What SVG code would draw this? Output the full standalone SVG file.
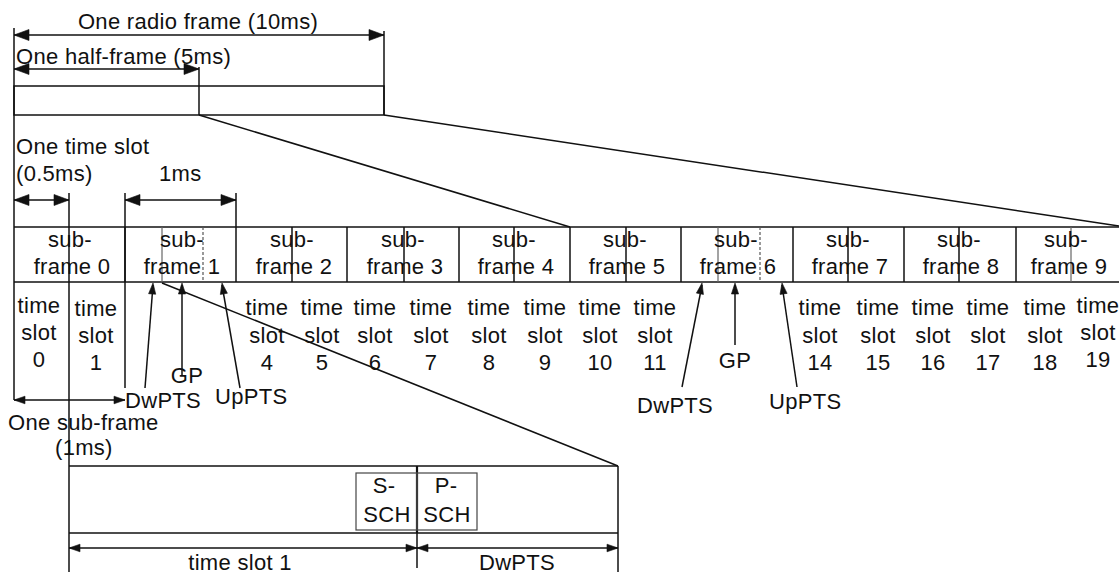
<svg xmlns="http://www.w3.org/2000/svg" width="1119" height="572" viewBox="0 0 1119 572">
<style>
.ln{stroke:#111;stroke-width:1.5;fill:none}
.tk{stroke:#111;stroke-width:2.2;fill:none}
.gr{stroke:#666;stroke-width:1.2;fill:none}
.ds{stroke:#555;stroke-width:1.2;stroke-dasharray:3,2;fill:none}
.bx{stroke:#444;stroke-width:1.2;fill:none}
.hd{fill:#111;stroke:#111;stroke-width:0.6;stroke-linejoin:round}
text{font-family:"Liberation Sans",Arial,sans-serif;font-size:22px;letter-spacing:0.3px;fill:#111}
.c{text-anchor:middle}
</style>

<g id="radio-frame">
<text class="c" x="198" y="29">One radio frame (10ms)</text>
<text x="16" y="64">One half-frame (5ms)</text>
<rect class="ln" x="14" y="86" width="370" height="29"/>
<line class="ln" x1="14" y1="28" x2="14" y2="400"/>
<line class="ln" x1="384" y1="31" x2="384" y2="115"/>
<line class="ln" x1="199" y1="67" x2="199" y2="115"/>
</g>

<g id="time-slot-scale">
<text x="16" y="154">One time slot</text>
<text x="16" y="181">(0.5ms)</text>
<text x="159" y="181">1ms</text>
<line class="ln" x1="69" y1="193" x2="69" y2="572"/>
<line class="ln" x1="125" y1="193" x2="125" y2="388"/>
<line class="ln" x1="236" y1="193" x2="236" y2="227"/>
</g>

<g id="subframe-row">
<line class="ln" x1="14" y1="227" x2="1119" y2="227"/>
<line class="ln" x1="14" y1="282" x2="1119" y2="282"/>
</g>

<g id="subframe-0">
<line class="ln" x1="125" y1="227" x2="125" y2="282"/>
<text class="c" x="70" y="247">sub-</text><text class="c" x="72" y="274">frame 0</text>
</g>
<g id="subframe-1">
<line class="ln" x1="236" y1="227" x2="236" y2="282"/>
<line class="gr" x1="162" y1="227" x2="162" y2="282"/>
<line class="ds" x1="203" y1="227" x2="203" y2="282"/>
<text class="c" x="182" y="247">sub-</text><text class="c" x="182" y="274">frame 1</text>
</g>
<g id="subframe-2">
<line class="ln" x1="347" y1="227" x2="347" y2="282"/>
<line class="ln" x1="292" y1="227" x2="292" y2="282"/>
<text class="c" x="292" y="247">sub-</text><text class="c" x="294" y="274">frame 2</text>
</g>
<g id="subframe-3">
<line class="ln" x1="459" y1="227" x2="459" y2="282"/>
<line class="ln" x1="404" y1="227" x2="404" y2="282"/>
<text class="c" x="403" y="247">sub-</text><text class="c" x="405" y="274">frame 3</text>
</g>
<g id="subframe-4">
<line class="ln" x1="570" y1="227" x2="570" y2="282"/>
<line class="ln" x1="514" y1="227" x2="514" y2="282"/>
<text class="c" x="514" y="247">sub-</text><text class="c" x="516" y="274">frame 4</text>
</g>
<g id="subframe-5">
<line class="ln" x1="681" y1="227" x2="681" y2="282"/>
<line class="ln" x1="626" y1="227" x2="626" y2="282"/>
<text class="c" x="625" y="247">sub-</text><text class="c" x="627" y="274">frame 5</text>
</g>
<g id="subframe-6">
<line class="ln" x1="793" y1="227" x2="793" y2="282"/>
<line class="gr" x1="718" y1="227" x2="718" y2="282"/>
<line class="ds" x1="760" y1="227" x2="760" y2="282"/>
<text class="c" x="736" y="247">sub-</text><text class="c" x="738" y="274">frame 6</text>
</g>
<g id="subframe-7">
<line class="ln" x1="904" y1="227" x2="904" y2="282"/>
<line class="ln" x1="848" y1="227" x2="848" y2="282"/>
<text class="c" x="848" y="247">sub-</text><text class="c" x="850" y="274">frame 7</text>
</g>
<g id="subframe-8">
<line class="ln" x1="1016" y1="227" x2="1016" y2="282"/>
<line class="ln" x1="959" y1="227" x2="959" y2="282"/>
<text class="c" x="959" y="247">sub-</text><text class="c" x="961" y="274">frame 8</text>
</g>
<g id="subframe-9">
<line class="gr" x1="1071" y1="227" x2="1071" y2="282"/>
<text class="c" x="1066" y="247">sub-</text><text class="c" x="1069" y="274">frame 9</text>
</g>

<g id="time-slots">
<text class="c" x="39" y="313">time</text><text class="c" x="39" y="340">slot</text><text class="c" x="39" y="367">0</text>
<text class="c" x="96" y="316">time</text><text class="c" x="96" y="343">slot</text><text class="c" x="96" y="370">1</text>
<text class="c" x="267" y="315">time</text><text class="c" x="267" y="343">slot</text><text class="c" x="267" y="370">4</text>
<text class="c" x="322" y="315">time</text><text class="c" x="322" y="343">slot</text><text class="c" x="322" y="370">5</text>
<text class="c" x="375" y="315">time</text><text class="c" x="375" y="343">slot</text><text class="c" x="375" y="370">6</text>
<text class="c" x="431" y="315">time</text><text class="c" x="431" y="343">slot</text><text class="c" x="431" y="370">7</text>
<text class="c" x="489" y="315">time</text><text class="c" x="489" y="343">slot</text><text class="c" x="489" y="370">8</text>
<text class="c" x="545" y="315">time</text><text class="c" x="545" y="343">slot</text><text class="c" x="545" y="370">9</text>
<text class="c" x="600" y="315">time</text><text class="c" x="600" y="343">slot</text><text class="c" x="600" y="370">10</text>
<text class="c" x="655" y="315">time</text><text class="c" x="655" y="343">slot</text><text class="c" x="655" y="370">11</text>
<text class="c" x="820" y="315">time</text><text class="c" x="820" y="343">slot</text><text class="c" x="820" y="370">14</text>
<text class="c" x="878" y="315">time</text><text class="c" x="878" y="343">slot</text><text class="c" x="878" y="370">15</text>
<text class="c" x="933" y="315">time</text><text class="c" x="933" y="343">slot</text><text class="c" x="933" y="370">16</text>
<text class="c" x="988" y="315">time</text><text class="c" x="988" y="343">slot</text><text class="c" x="988" y="370">17</text>
<text class="c" x="1045" y="315">time</text><text class="c" x="1045" y="343">slot</text><text class="c" x="1045" y="370">18</text>
<text class="c" x="1098" y="313">time</text><text class="c" x="1098" y="340">slot</text><text class="c" x="1098" y="367">19</text>
</g>

<g id="special-labels">
<text class="c" x="187" y="383">GP</text>
<text x="125" y="408">DwPTS</text>
<text x="215" y="404">UpPTS</text>
<text class="c" x="735" y="368">GP</text>
<text x="637" y="413">DwPTS</text>
<text x="769" y="409">UpPTS</text>
<text x="8" y="430">One sub-frame</text>
<text x="55" y="455">(1ms)</text>
</g>

<g id="detail-box">
<line class="ln" x1="69" y1="466" x2="618" y2="466"/>
<line class="ln" x1="69" y1="533" x2="618" y2="533"/>
<line class="ln" x1="618" y1="466" x2="618" y2="572"/>
<line class="tk" x1="417" y1="466" x2="417" y2="533"/>
<line class="ln" x1="417" y1="533" x2="417" y2="568"/>
</g>
<g id="s-sch">
<rect class="bx" x="356" y="473" width="61" height="57"/>
<text class="c" x="384" y="493">S-</text><text class="c" x="387" y="522">SCH</text>
</g>
<g id="p-sch">
<rect class="bx" x="417" y="473" width="60" height="57"/>
<text class="c" x="446" y="493">P-</text><text class="c" x="447" y="522">SCH</text>
</g>
<g id="bottom-labels">
<text class="c" x="240" y="570">time slot 1</text>
<text class="c" x="517" y="570">DwPTS</text>
</g>

<g id="connectors">
<line class="ln" x1="14" y1="35" x2="384" y2="35"/>
<line class="ln" x1="14" y1="69" x2="199" y2="69"/>
<line class="ln" x1="14" y1="200" x2="69" y2="200"/>
<line class="ln" x1="125" y1="200" x2="236" y2="200"/>
<line class="ln" x1="14" y1="400" x2="125" y2="400"/>
<line class="ln" x1="199" y1="115" x2="570" y2="227"/>
<line class="ln" x1="384" y1="115" x2="1119" y2="226"/>
<line class="ln" x1="162" y1="283" x2="618" y2="466"/>
<line class="ln" x1="145" y1="388" x2="153" y2="285"/>
<line class="ln" x1="182" y1="375" x2="182" y2="285"/>
<line class="ln" x1="240" y1="388" x2="222" y2="285"/>
<line class="ln" x1="682" y1="387" x2="702" y2="285"/>
<line class="ln" x1="735" y1="345" x2="735" y2="285"/>
<line class="ln" x1="797" y1="387" x2="782" y2="285"/>
<line class="ln" x1="69" y1="548" x2="417" y2="548"/>
<line class="ln" x1="417" y1="548" x2="618" y2="548"/>
<g id="arrowheads">
<path class="hd" d="M384,35 L369,29.5 L369,40.5 Z"/>
<path class="hd" d="M14,35 L29,29.5 L29,40.5 Z"/>
<path class="hd" d="M199,69 L184,63.5 L184,74.5 Z"/>
<path class="hd" d="M14,69 L29,63.5 L29,74.5 Z"/>
<path class="hd" d="M69,200 L54,194.5 L54,205.5 Z"/>
<path class="hd" d="M14,200 L29,194.5 L29,205.5 Z"/>
<path class="hd" d="M236,200 L221,194.5 L221,205.5 Z"/>
<path class="hd" d="M125,200 L140,194.5 L140,205.5 Z"/>
<path class="hd" d="M125,400 L114,396.2 L114,403.8 Z"/>
<path class="hd" d="M14,400 L25,396.2 L25,403.8 Z"/>
<path class="hd" d="M153,283 L155.75,294.24 L148.57,293.7 Z"/>
<path class="hd" d="M182,283 L185.6,294 L178.4,294 Z"/>
<path class="hd" d="M222,283 L227.41,293.24 L220.31,294.46 Z"/>
<path class="hd" d="M702,283 L703.46,294.48 L696.38,293.12 Z"/>
<path class="hd" d="M735,283 L738.6,294 L731.4,294 Z"/>
<path class="hd" d="M782,283 L787.13,293.38 L780.01,294.4 Z"/>
<path class="hd" d="M417,548 L406,544.2 L406,551.8 Z"/>
<path class="hd" d="M69,548 L80,544.2 L80,551.8 Z"/>
<path class="hd" d="M417,548 L428,544.2 L428,551.8 Z"/>
<path class="hd" d="M618,548 L607,544.2 L607,551.8 Z"/>
</g>
</g>
</svg>
